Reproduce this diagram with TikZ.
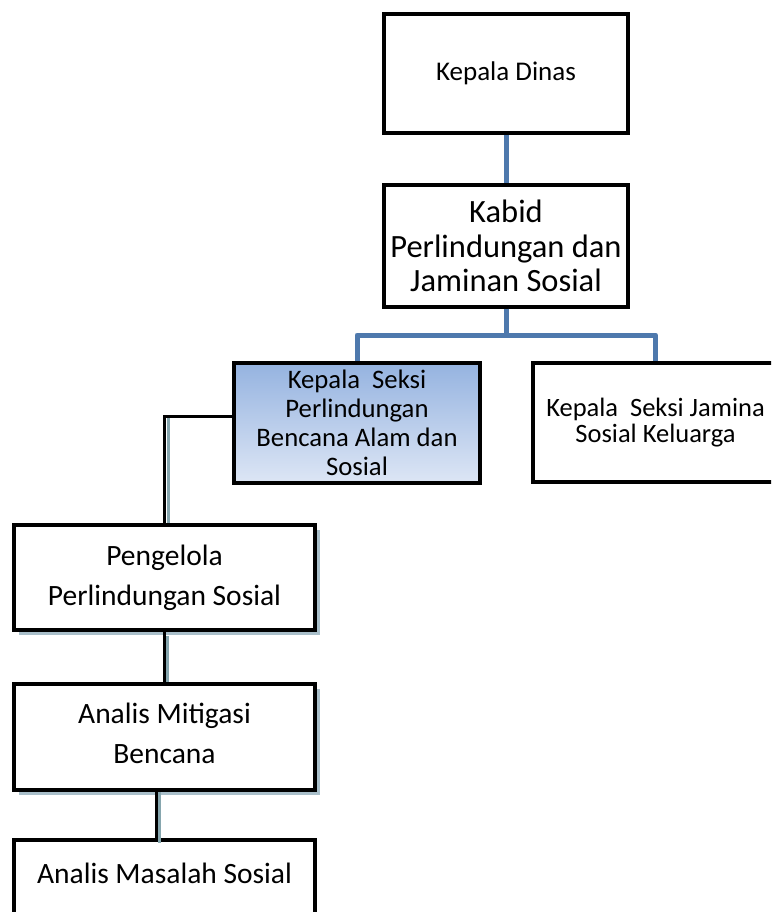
\documentclass[tikz,border=0pt]{standalone}
\usepackage{fontspec}
\setmainfont{Carlito}
\usetikzlibrary{shadows}
\definecolor{linkblue}{HTML}{4E79AD}
\definecolor{shadecol}{HTML}{A9BFCA}
\definecolor{lineshade}{HTML}{86A6AE}
\definecolor{topblue}{HTML}{95B3E0}
\definecolor{botblue}{HTML}{DDE6F5}
\begin{document}
\begin{tikzpicture}[x=1pt,y=-1pt,
  orgbox/.style={draw=black, line width=4pt, fill=white, align=center,
    inner sep=0pt, line join=miter},
  boxshade/.style={drop shadow={shadow xshift=5pt, shadow yshift=-5pt,
    fill=shadecol, opacity=1}},
  bluelink/.style={draw=linkblue, line width=5pt, line join=round},
  blacklink/.style={draw=black, line width=3pt},
  linkshade/.style={draw=lineshade, line width=3pt}]
\useasboundingbox (0,0) rectangle (771,912);
\begin{scope}
\clip (0,0) rectangle (771,912);

% top of the chart
\node[orgbox, minimum width=244pt, minimum height=119pt,
  font=\fontsize{27}{30}\selectfont] (dinas) at (506,73.5) {Kepala Dinas};
\node[orgbox, minimum width=244pt, minimum height=121pt,
  font=\fontsize{32.5}{34.5}\selectfont] (kabid) at (506,246)
  {Kabid\\Perlindungan dan\\Jaminan Sosial};

% section heads
\node[orgbox, top color=topblue, bottom color=botblue,
  minimum width=246pt, minimum height=120pt,
  font=\fontsize{26.7}{29.2}\selectfont] (seksiA) at (357,423)
  {Kepala\ \ Seksi\\Perlindungan\\Bencana Alam dan\\Sosial};
\node[orgbox, minimum width=245pt, minimum height=119pt,
  font=\fontsize{26.5}{26}\selectfont] (seksiB) at (655.5,422.5)
  {Kepala\ \ Seksi Jamina\\Sosial Keluarga};

% staff positions
\node[orgbox, boxshade, minimum width=301pt, minimum height=105pt,
  font=\fontsize{29.5}{40}\selectfont] (kelola) at (164.5,577.5)
  {Pengelola\\Perlindungan Sosial};
\node[orgbox, boxshade, minimum width=301pt, minimum height=106pt,
  text depth=8pt,
  font=\fontsize{29.5}{40}\selectfont] (mitigasi) at (164.5,737)
  {Analis Mitigasi\\Bencana};
\node[orgbox, minimum width=301pt, minimum height=106pt,
  font=\fontsize{29.5}{40}\selectfont] (masalah) at (164.5,893)
  {Analis Masalah Sosial\\~};

% blue connectors
\coordinate (bus) at (506,335);
\draw[bluelink] (dinas.south) -- (kabid.north);
\draw[bluelink] (kabid.south) -- (bus);
\draw[bluelink] (seksiA.north) |- (bus) -| (seksiB.north);

% black connectors with their shading
\coordinate (elbow) at (165,416);
\coordinate (dropx) at (156,0);
\draw[linkshade] ([xshift=3pt]elbow) -- ([xshift=3pt]elbow |- kelola.north);
\draw[linkshade] ([xshift=3pt,yshift=-4pt]kelola.south) -- ([xshift=3pt]mitigasi.north);
\draw[linkshade] ([xshift=3pt]mitigasi.south -| dropx) -- ([xshift=3pt,yshift=-5pt]masalah.north -| dropx);
\draw[blacklink] (seksiA.west |- elbow) -| (kelola.north);
\draw[blacklink] (kelola.south) -- (mitigasi.north);
\draw[blacklink] (mitigasi.south -| dropx) -- (masalah.north -| dropx);
\end{scope}
\end{tikzpicture}
\end{document}
